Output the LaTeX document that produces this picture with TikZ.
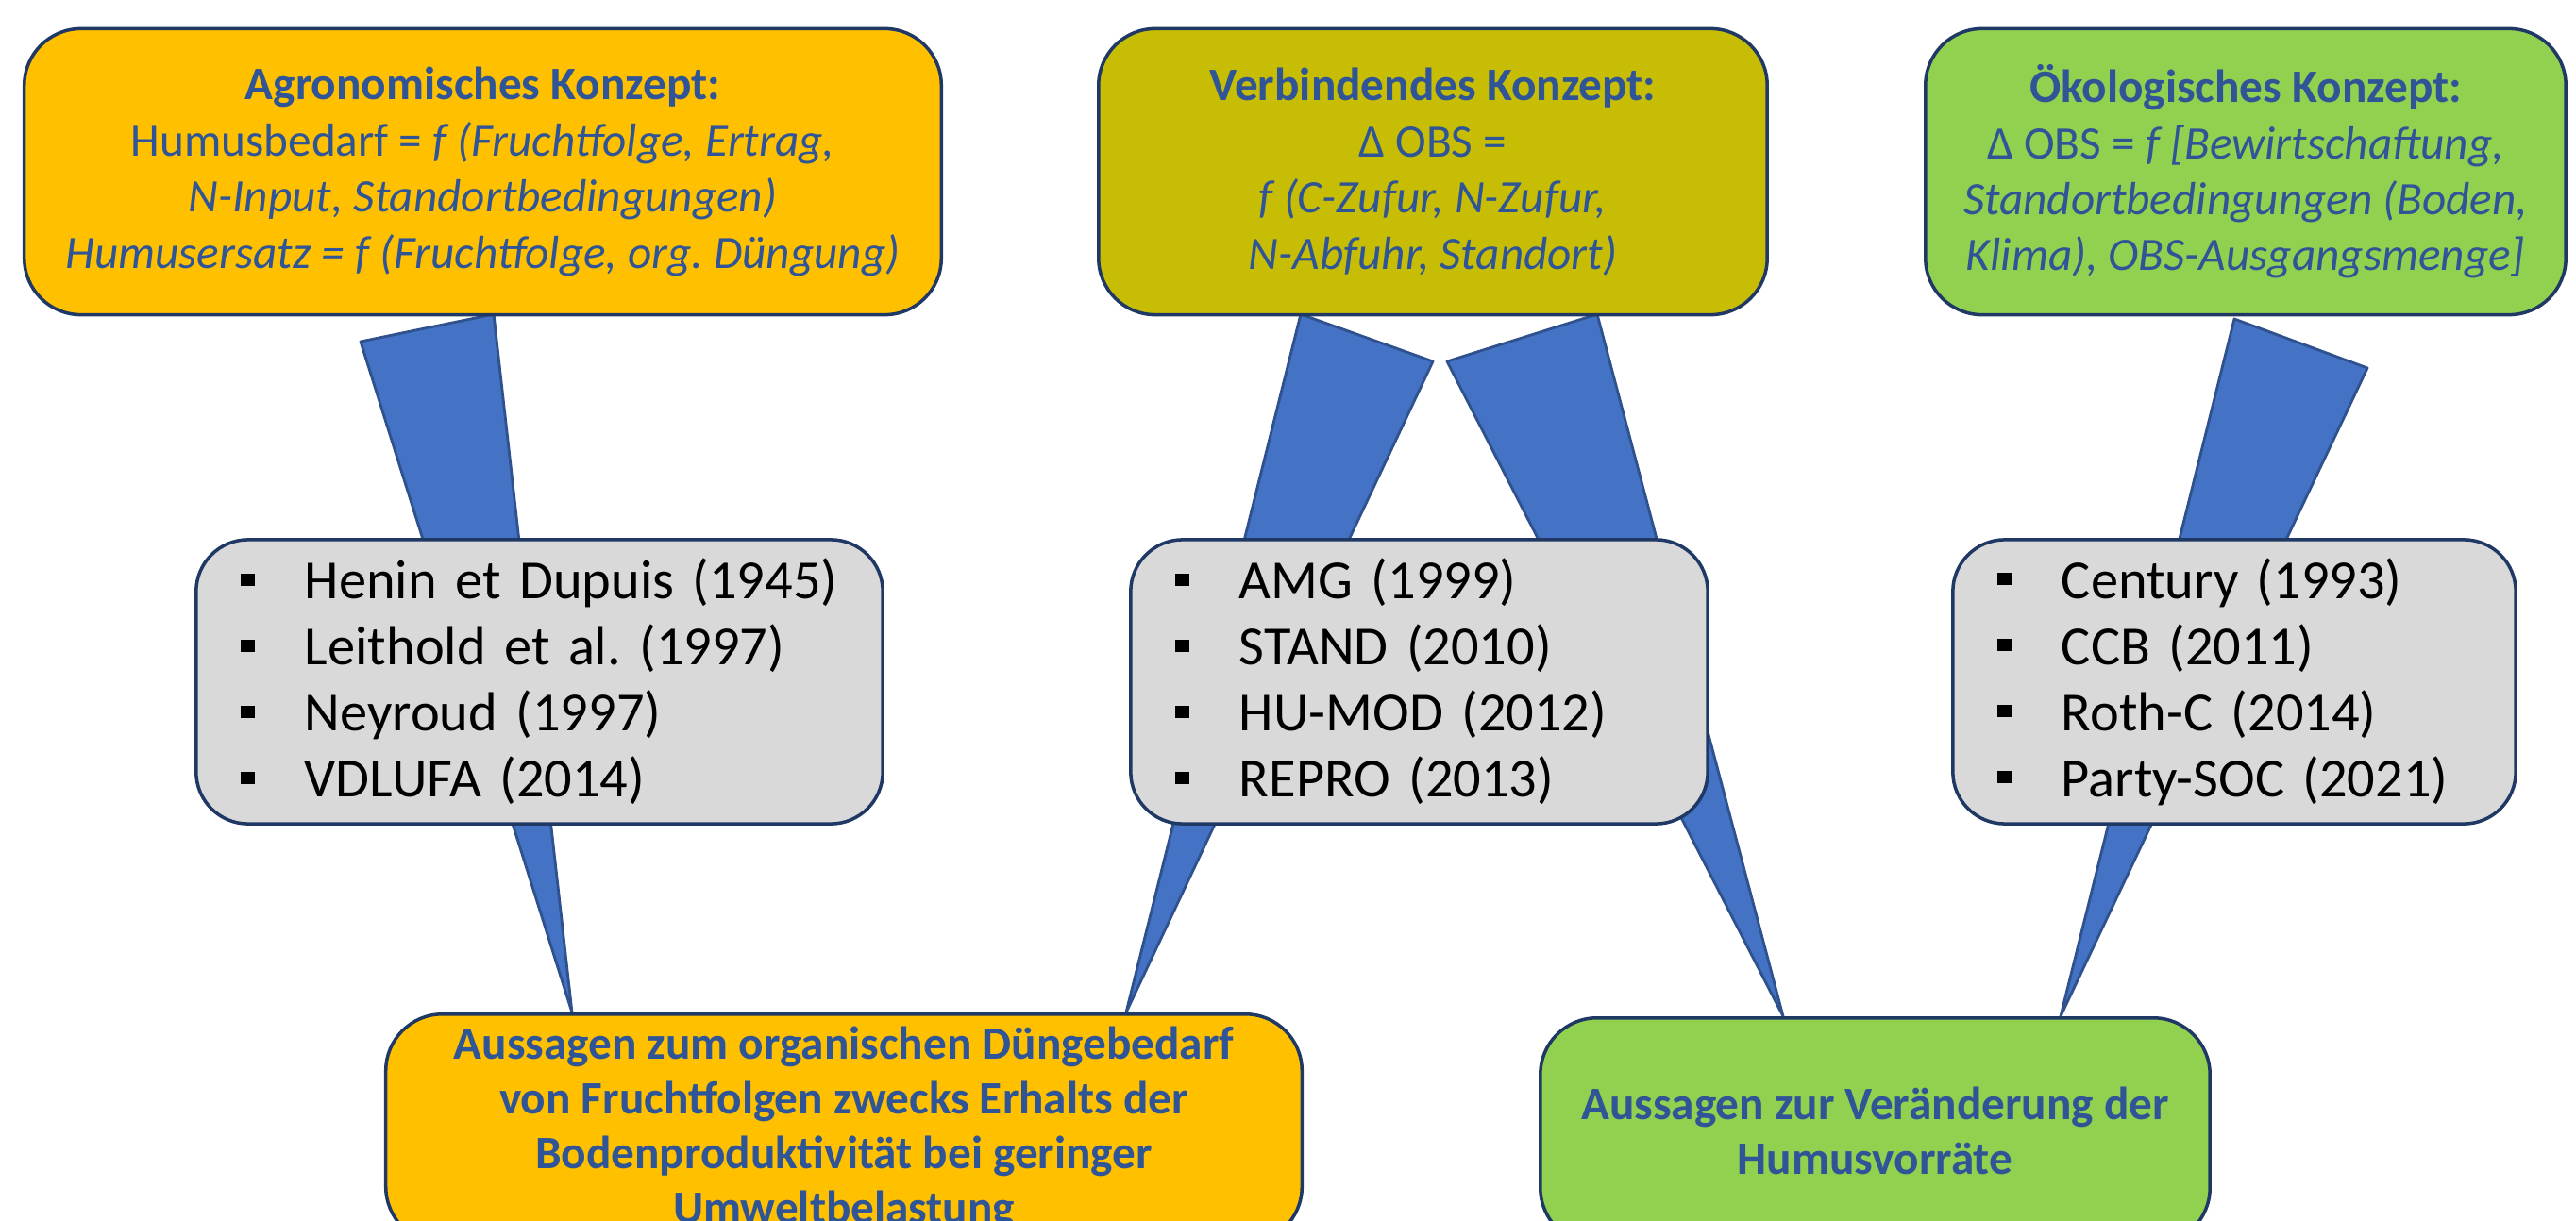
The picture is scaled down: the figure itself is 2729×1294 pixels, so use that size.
\documentclass[tikz,border=0pt]{standalone}
\usepackage{fontspec}
\setmainfont{Carlito}
\frenchspacing
\definecolor{txtblue}{HTML}{2F5597}
\definecolor{boxline}{HTML}{203864}
\definecolor{agroorange}{HTML}{FFC000}
\definecolor{verbolive}{HTML}{C7BD05}
\definecolor{oekogreen}{HTML}{92D050}
\definecolor{modgray}{HTML}{D9D9D9}
\definecolor{keilblue}{HTML}{4472C4}
\definecolor{keilline}{HTML}{2F528F}
\newcommand{\bul}{\makebox[0.68cm][l]{\raisebox{0.14cm}{\rule{0.15cm}{0.13cm}}}}

\begin{document}
\begin{tikzpicture}[x=0.01cm, y=-0.01cm,
	konzept/.style={draw=boxline, line width=1pt, rounded corners=0.6cm, align=center, text=txtblue, font=\fontsize{14}{16.9}\selectfont, minimum height=3.03cm, inner sep=0pt},
	modelle/.style={draw=boxline, line width=1pt, fill=modgray, rounded corners=0.55cm, align=left, minimum height=3.01cm, inner xsep=0.47cm, font=\fontsize{16.6}{19.9}\selectfont},
	aussage/.style={draw=boxline, line width=1pt, rounded corners=0.6cm, align=center, text=txtblue, font=\bfseries\fontsize{14}{16.5}\selectfont, anchor=north},
	keil/.style={fill=keilblue, draw=keilline, line width=0.8pt, line join=round}]
	\useasboundingbox (0,0) rectangle (2729,1294);
	\clip (0,0) rectangle (2729,1294);
	% keile (hinter den Kaesten)
	\coordinate (k1l) at (382,362);  \coordinate (k1r) at (523,333);  \coordinate (k1t) at (606,1073);
	\coordinate (k2l) at (1378,333); \coordinate (k2r) at (1518,383); \coordinate (k2t) at (1193,1073);
	\coordinate (k3l) at (1533,383); \coordinate (k3r) at (1692,333); \coordinate (k3t) at (1889,1077);
	\coordinate (k4l) at (2367,338); \coordinate (k4r) at (2508,390); \coordinate (k4t) at (2183,1077);
	\foreach \k in {1,...,4}
		\filldraw [keil] (k\k l) -- (k\k r) -- (k\k t) -- cycle;
	% konzepte
	\node [konzept, fill=agroorange, minimum width=9.71cm] (agro) at (511.5,182) {\textbf{Agronomisches Konzept:}\\Humusbedarf = \textit{f (Fruchtfolge, Ertrag,}\\\textit{N-Input, Standortbedingungen)}\\\textit{Humusersatz = f (Fruchtfolge, org. Düngung)}};
	\node [konzept, fill=verbolive, minimum width=7.08cm] (verb) at (1518,182) {\textbf{Verbindendes Konzept:}\\Δ OBS =\\\textit{f (C-Zufur, N-Zufur,}\\\textit{N-Abfuhr, Standort)}};
	\node [konzept, fill=oekogreen, minimum width=6.78cm] (oeko) at (2379,182) {\textbf{Ökologisches Konzept:}\\Δ OBS = \textit{f [Bewirtschaftung,}\\\textit{Standortbedingungen (Boden,}\\\textit{Klima), OBS-Ausgangsmenge]}};
	% modelle
	\node [modelle, text width=6.33cm] (mod1) at (571.5,722.5) {\bul Henin et Dupuis (1945)\\\bul Leithold et al. (1997)\\\bul Neyroud (1997)\\\bul VDLUFA (2014)};
	\node [modelle, text width=5.17cm] (mod2) at (1503.5,722.5) {\bul AMG (1999)\\\bul STAND (2010)\\\bul HU-MOD (2012)\\\bul REPRO (2013)};
	\node [modelle, text width=5.02cm] (mod3) at (2367,722.5) {\bul Century (1993)\\\bul CCB (2011)\\\bul Roth-C (2014)\\\bul Party-SOC (2021)};
	% aussagen
	\node [aussage, fill=agroorange, minimum width=9.70cm, inner ysep=0.13cm] (duenger) at (894,1073) {Aussagen zum organischen Düngebedarf\\von Fruchtfolgen zwecks Erhalts der\\Bodenproduktivität bei geringer\\Umweltbelastung};
	\node [aussage, fill=oekogreen, minimum width=7.09cm, minimum height=2.40cm] (humus) at (1986.5,1077) {Aussagen zur Veränderung der\\Humusvorräte};
\end{tikzpicture}
\end{document}
